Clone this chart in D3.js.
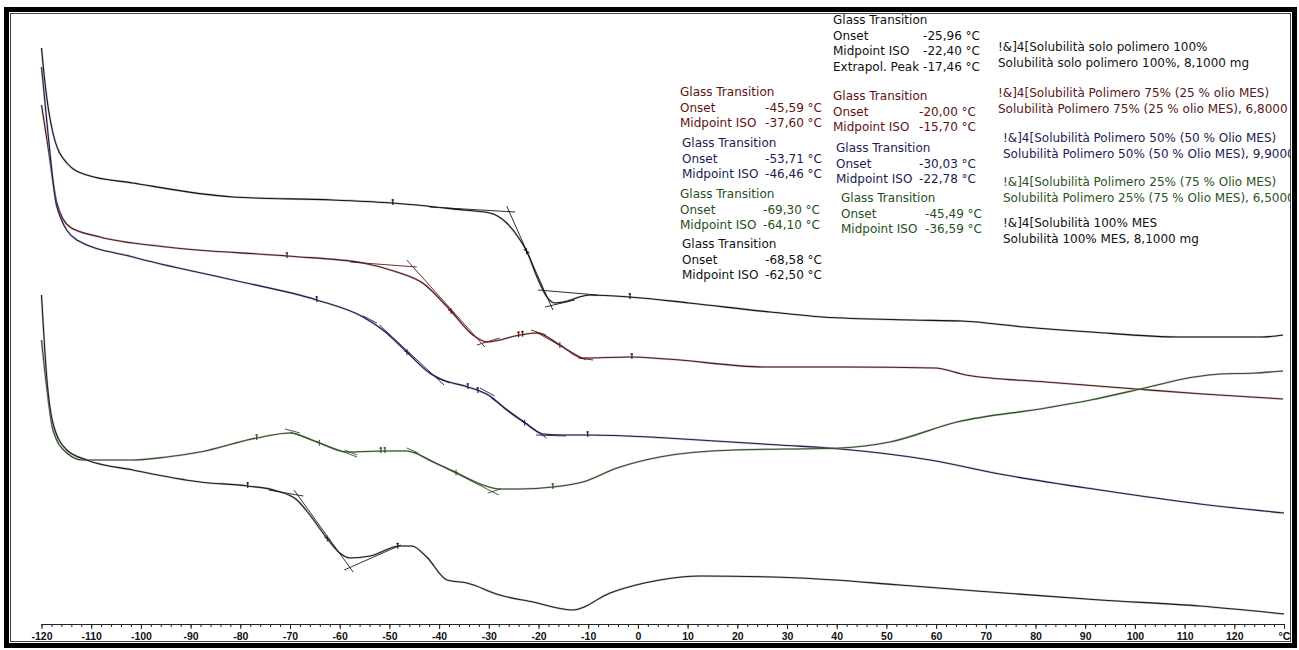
<!DOCTYPE html>
<html>
<head>
<meta charset="utf-8">
<script src="https://cdn.jsdelivr.net/npm/d3@7"></script>
<style>
  html, body { margin: 0; padding: 0; background: #fff; }
  svg { display: block; }
  .gt text, .legend text { font-family: "DejaVu Sans", Verdana, sans-serif; font-size: 12px; }
  .axis text { font-family: "Liberation Sans", Arial, sans-serif; font-size: 10.5px; font-weight: bold; fill: #111; }
</style>
</head>
<body>
<svg id="chart" width="1299" height="650"></svg>
<script>
// DSC heating curves, temperature in °C, heat flow in arbitrary units (endo down)
const tempTicks = d3.range(-120, 121, 10);
const minorTicks = d3.range(-120, 131, 2);
const unitLabel = "°C";

const seriesNames = [
  "Solubilità solo polimero 100%",
  "Solubilità Polimero 75% (25 % olio MES)",
  "Solubilità Polimero 50% (50 % Olio MES)",
  "Solubilità Polimero 25% (75 % Olio MES)",
  "Solubilità 100% MES"
];
const sampleMass = ["8,1000 mg", "6,8000", "9,9000", "6,5000", "8,1000 mg"];
const seriesColors = ["#141414", "#5a1616", "#1c1c52", "#2c5224", "#1e1e1e"];

const solo100 = [
  [-120,-0.48],[-119.3,-0.83],[-117.7,-1.33],[-114.9,-1.63],[-110.9,-1.75],[-101.6,-1.83],
  [-81.5,-1.97],[-61.4,-2.00],[-49.3,-2.03],[-35.2,-2.10],[-29.8,-2.13],[-26.4,-2.23],
  [-23.7,-2.40],[-22.3,-2.52],[-20.3,-2.77],[-18.3,-2.97],[-16.7,-3.03],[-15.1,-3.02],
  [-9.7,-2.95],[-1.6,-2.97],[10.3,-3.03],[26.6,-3.12],[37.2,-3.17],[55.1,-3.20],
  [65.2,-3.21],[77.7,-3.27],[91.1,-3.32],[109.1,-3.37],[125.4,-3.37],[129.8,-3.35]
];
const poli75 = [
  [-120,-1.05],[-118.9,-1.40],[-116.9,-2.03],[-114.3,-2.27],[-108.2,-2.37],[-94.8,-2.47],
  [-70.6,-2.56],[-55.3,-2.63],[-48.5,-2.72],[-43.3,-2.83],[-37.8,-3.10],[-33.2,-3.35],
  [-30.4,-3.42],[-23.7,-3.35],[-20.3,-3.33],[-15.7,-3.45],[-11.1,-3.58],[-1.6,-3.57],
  [5.8,-3.59],[25.6,-3.67],[41.6,-3.67],[59.8,-3.68],[66.0,-3.75],[82.1,-3.82],
  [100.2,-3.89],[113.7,-3.94],[129.8,-3.99]
];
const poli50 = [
  [-120,-0.67],[-118.7,-1.33],[-116.9,-2.07],[-112.9,-2.40],[-101.6,-2.57],[-81.5,-2.80],
  [-64.6,-3.00],[-55.3,-3.17],[-51.3,-3.30],[-46.5,-3.52],[-41.9,-3.73],[-39.2,-3.80],
  [-34.2,-3.87],[-29.8,-3.96],[-26.4,-4.10],[-22.7,-4.23],[-19.1,-4.34],[-15.1,-4.35],
  [-10.1,-4.35],[2.4,-4.37],[5.8,-4.38],[28.4,-4.45],[40.8,-4.49],[58.8,-4.60],
  [72.8,-4.74],[93.0,-4.90],[113.1,-5.04],[130,-5.13]
];
const poli25 = [
  [-120,-3.40],[-118.9,-3.90],[-117.7,-4.30],[-114.9,-4.53],[-111.7,-4.60],[-101.6,-4.60],
  [-94.8,-4.57],[-88.1,-4.52],[-76.7,-4.38],[-70.0,-4.33],[-64.6,-4.42],[-58.6,-4.52],
  [-51.3,-4.51],[-46.5,-4.51],[-41.2,-4.62],[-36.8,-4.72],[-31.2,-4.85],[-27.8,-4.89],
  [-23.7,-4.89],[-17.1,-4.87],[-11.1,-4.82],[-4.2,-4.68],[4.4,-4.57],[19.3,-4.50],
  [40.8,-4.48],[50.7,-4.42],[64.2,-4.22],[82.1,-4.08],[91.1,-4.00],[102.0,-3.88],
  [111.9,-3.77],[117.1,-3.74],[124.3,-3.73],[129.8,-3.71]
];
const mes100 = [
  [-120,-2.95],[-118.9,-3.80],[-117.7,-4.23],[-114.9,-4.50],[-110.9,-4.60],[-101.6,-4.70],
  [-88.1,-4.82],[-78.5,-4.86],[-72.6,-4.91],[-68.6,-5.00],[-66.0,-5.15],[-62.6,-5.38],
  [-60.0,-5.53],[-57.9,-5.58],[-53.9,-5.56],[-47.9,-5.46],[-45.5,-5.46],[-42.5,-5.57],
  [-38.4,-5.80],[-34.4,-5.83],[-27.8,-5.95],[-21.1,-6.02],[-13.1,-6.10],[-5.6,-5.93],
  [4.4,-5.80],[12.5,-5.76],[32.6,-5.78],[52.7,-5.85],[65.6,-5.90],[93.0,-6.00],
  [113.1,-6.06],[130,-6.14]
];
const curves = [solo100, poli75, poli50, poli25, mes100];

// Glass-transition evaluations: [series, onset, midpoint, extrapolated peak]
const gtSeries   = [0, 1, 1, 2, 2, 3, 3, 4];
const gtOnset    = [-25.96, -45.59, -20.00, -53.71, -30.03, -69.30, -45.49, -68.58];
const gtMidpoint = [-22.40, -37.60, -15.70, -46.46, -22.78, -64.10, -36.59, -62.50];
const gtPeak     = [-17.46, null, null, null, null, null, null, null];

// Tangent construction lines per series: [T1, v1, T2, v2]
const tangents = [
  [[-41.9,-2.07,-24.7,-2.12],[-26.4,-2.06,-17.1,-3.10],[-20.1,-2.90,-8.2,-2.95],[-18.7,-3.07,-12.7,-3.00]],
  [[-57.9,-2.62,-44.5,-2.67],[-46.5,-2.60,-30.8,-3.47],[-32.4,-3.45,-27.8,-3.38],
   [-21.5,-3.30,-18.5,-3.35],[-20.5,-3.32,-10.5,-3.60],[-12.0,-3.58,-9.0,-3.60]],
  [[-55.3,-3.16,-52.5,-3.23],[-52.0,-3.25,-39.0,-3.85],[-40.5,-3.78,-37.8,-3.83],
   [-31.8,-3.88,-28.8,-3.96],[-29.5,-3.98,-18.4,-4.38],[-20.5,-4.35,-14.5,-4.36]],
  [[-71.0,-4.29,-68.0,-4.33],[-70.0,-4.32,-56.5,-4.57],[-59.0,-4.50,-56.5,-4.55],
   [-46.5,-4.48,-44.2,-4.53],[-45.0,-4.52,-28.0,-4.95],[-30.2,-4.93,-27.6,-4.89]],
  [[-74.3,-4.90,-67.3,-4.96],[-69.2,-4.90,-57.3,-5.72],[-59.1,-5.70,-47.7,-5.45]]
];

// Evaluation limit markers per series (temperatures)
const limitMarks = [
  [-49.3, -1.6],
  [-70.6, -24.0, -23.2, -1.2],
  [-64.6, -34.2, -32.2, -10.1],
  [-76.7, -51.7, -50.9, -17.1],
  [-78.5, -48.3]
];

const svg = d3.select("#chart");
const x = d3.scaleLinear().domain([-120, 130]).range([41.5, 1284]);
const y = d3.scaleLinear().domain([-6.4, 0]).range([640, 0]);

const valueAt = (data, t) => {
  const i = Math.max(1, Math.min(data.length - 1, d3.bisector(d => d[0]).left(data, t)));
  const a = data[i - 1], b = data[i];
  const k = (t - a[0]) / (b[0] - a[0]);
  return a[1] + k * (b[1] - a[1]);
};

// frame
svg.append("rect").attr("x", 6.5).attr("y", 9.5).attr("width", 1288).attr("height", 636)
  .attr("fill", "none").attr("stroke", "#000").attr("stroke-width", 5);
svg.append("rect").attr("x", 10.5).attr("y", 13.5).attr("width", 1280).attr("height", 628)
  .attr("fill", "none").attr("stroke", "#444").attr("stroke-width", 1);

svg.append("clipPath").attr("id", "inner")
  .append("rect").attr("x", 11).attr("y", 14).attr("width", 1279).attr("height", 627);

// axis
const axisY = 624;
svg.append("g").attr("class", "axis").attr("transform", `translate(0,${axisY})`)
  .call(d3.axisBottom(x).tickValues(minorTicks).tickSize(3).tickFormat(""))
  .call(g => g.select(".domain").remove())
  .call(g => g.selectAll("line").attr("stroke", "#222"));
svg.append("g").attr("class", "axis").attr("transform", `translate(0,${axisY})`)
  .call(d3.axisBottom(x).tickValues(tempTicks.concat([130])).tickSize(5).tickPadding(4)
    .tickFormat(d => d === 130 ? unitLabel : String(d)))
  .call(g => g.select(".domain").attr("d", `M${x(-120)},0.5H${x(130)}`).attr("stroke", "#222"))
  .call(g => g.selectAll("line").attr("stroke", "#222"));

// curves
const line = d3.line().x(d => x(d[0])).y(d => y(d[1])).curve(d3.curveMonotoneX);
const plot = svg.append("g").attr("clip-path", "url(#inner)");
curves.forEach((data, i) => {
  plot.append("path").datum(data).attr("d", line)
    .attr("fill", "none").attr("stroke", "#9a9a9a").attr("stroke-width", 2.2).attr("opacity", 0.55);
  plot.append("path").datum(data).attr("d", line)
    .attr("fill", "none").attr("stroke", seriesColors[i]).attr("stroke-width", 1.1);
});

// tangents
tangents.forEach((segs, i) => {
  plot.selectAll(null).data(segs).join("line")
    .attr("x1", d => x(d[0])).attr("y1", d => y(d[1]))
    .attr("x2", d => x(d[2])).attr("y2", d => y(d[3]))
    .attr("stroke", seriesColors[i]).attr("stroke-width", 0.9);
});

// limit markers
limitMarks.forEach((temps, i) => {
  plot.selectAll(null).data(temps).join("path")
    .attr("d", t => { const px = x(t), py = y(valueAt(curves[i], t));
      return `M${px},${py - 4}V${py + 2}M${px - 1.5},${py - 3}H${px + 1}`; })
    .attr("stroke", seriesColors[i]).attr("stroke-width", 1.2).attr("fill", "none");
});

// midpoint crosses
gtMidpoint.forEach((t, j) => {
  const data = curves[gtSeries[j]];
  const px = x(t), py = y(valueAt(data, t));
  plot.append("path").attr("d", `M${px - 3},${py - 1.5}L${px + 3},${py + 1.5}M${px},${py - 3}V${py + 3}`)
    .attr("stroke", seriesColors[gtSeries[j]]).attr("stroke-width", 1).attr("fill", "none");
});

// glass transition result blocks
const fmt = v => v.toFixed(2).replace(".", ",") + " °C";
const gtTextColors = ["#111", "#5e1212", "#5e1212", "#1a1a55", "#1a1a55", "#24501a", "#24501a", "#111"];
const gtPos = [[833, 20, 147], [680, 92, 142], [833, 96, 143], [682, 143, 140], [836, 148, 140],
               [680, 194, 140], [841, 198, 141], [682, 244, 140]];
const gt = svg.append("g").attr("class", "gt");
gtOnset.forEach((onset, j) => {
  const [gx, gy, w] = gtPos[j];
  const g = gt.append("g").attr("fill", gtTextColors[j]);
  const rows = [["Onset", fmt(onset)], ["Midpoint ISO", fmt(gtMidpoint[j])]];
  if (gtPeak[j] !== null) rows.push(["Extrapol. Peak", fmt(gtPeak[j])]);
  g.append("text").attr("x", gx).attr("y", gy + 4).text("Glass Transition");
  rows.forEach((r, k) => {
    const ty = gy + 4 + 15.5 * (k + 1);
    g.append("text").attr("x", gx).attr("y", ty).text(r[0]);
    g.append("text").attr("x", gx + w).attr("y", ty).attr("text-anchor", "end").text(r[1]);
  });
});

// legend
const legendPos = [[998, 47], [998, 93], [1003, 138], [1003, 182], [1003, 223]];
const legend = svg.append("g").attr("class", "legend").attr("clip-path", "url(#inner)");
seriesNames.forEach((name, i) => {
  const [lx, ly] = legendPos[i];
  const g = legend.append("g").attr("fill", seriesColors[i] === "#1e1e1e" ? "#111" : seriesColors[i]);
  g.append("text").attr("x", lx).attr("y", ly + 4).text("!&]4[" + name);
  g.append("text").attr("x", lx).attr("y", ly + 19.5).text(name + ", " + sampleMass[i]);
});
</script>
</body>
</html>
